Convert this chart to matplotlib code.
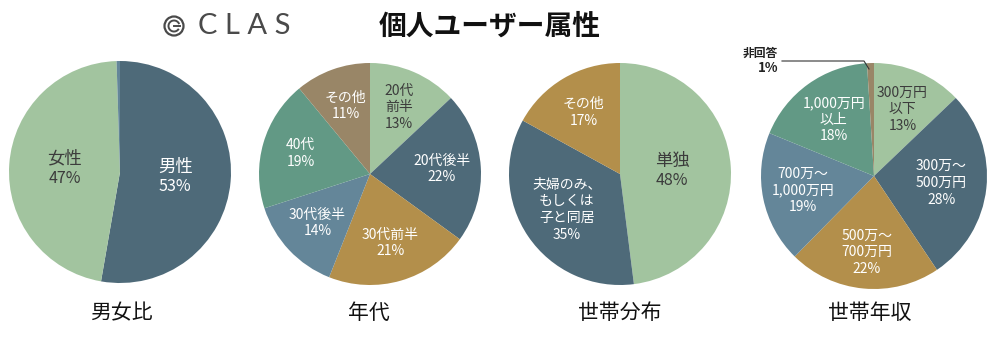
import matplotlib.pyplot as plt
import numpy as np
from matplotlib.patches import Circle, Arc

plt.rcParams['font.family'] = ['Noto Sans CJK JP', 'DejaVu Sans']

# colours used by all four pies
green = '#a2c49f'
slate = '#4e6a79'
gold = '#b38f4b'
steel = '#648699'
teal = '#629985'
taupe = '#998667'

# 男女比
gender_labels = ['男性', '女性', '']
gender_pcts = [53, 47, None]
gender_values = [53, 47, 0.5]
gender_colors = [slate, green, steel]

# 年代
age_labels = ['20代\n前半', '20代後半', '30代前半', '30代後半', '40代', 'その他']
age_values = [13, 22, 21, 14, 19, 11]
age_colors = [green, slate, gold, steel, teal, taupe]

# 世帯分布
house_labels = ['単独', '夫婦のみ、\nもしくは\n子と同居', 'その他']
house_values = [48, 35, 17]
house_colors = [green, slate, gold]

# 世帯年収
income_labels = ['300万円\n以下', '300万〜\n500万円', '500万〜\n700万円',
                 '700万〜\n1,000万円', '1,000万円\n以上', '非回答']
income_values = [13, 28, 22, 19, 18, 1]
income_colors = [green, slate, gold, steel, teal, taupe]

W, H = 1000, 339
fig = plt.figure(figsize=(10, 3.39), dpi=100)
ax = fig.add_axes([0, 0, 1, 1])


def draw_pie(values, labels, pcts, colors, cx, cy, r, dist, size, pct_size, skip=()):
    wedges, _ = ax.pie(values, colors=colors, startangle=90, counterclock=False,
                       center=(cx, H - cy), radius=r, wedgeprops=dict(linewidth=0))
    n = len(values)
    dist = [dist] * n if np.isscalar(dist) else dist
    size = [size] * n if np.isscalar(size) else size
    pct_size = [pct_size] * n if np.isscalar(pct_size) else pct_size
    for i, w in enumerate(wedges):
        if pcts[i] is None or i in skip:
            continue
        ang = np.deg2rad((w.theta1 + w.theta2) / 2)
        x = cx + dist[i] * r * np.cos(ang)
        y = H - cy + dist[i] * r * np.sin(ang)
        col = '#3c3c3c' if colors[i] == green else 'white'
        nl = labels[i].count('\n') + 1
        lh = size[i] * 1.75
        ph = pct_size[i] * 1.75
        top = y + (nl * lh + ph) / 2
        ax.text(x, top - nl * lh / 2, labels[i], ha='center', va='center',
                fontsize=size[i], color=col, linespacing=1.25)
        ax.text(x, top - nl * lh - ph / 2 + 1, f'{pcts[i]}%',
                ha='center', va='center', fontsize=pct_size[i], color=col)
    return wedges


draw_pie(gender_values, gender_labels, gender_pcts, gender_colors,
         120, 172, 111, 0.5, 12.5, 11.5)
draw_pie(age_values, age_labels, age_values, age_colors,
         370, 174, 111, 0.65, 10, 10)
draw_pie(house_values, house_labels, house_values, house_colors,
         620, 174, 111, [0.47, 0.58, 0.64], [12.5, 10, 10], [11.5, 10, 10])
draw_pie(income_values, income_labels, income_values, income_colors,
         874, 176, 113, [0.64, 0.6, 0.68, 0.64, 0.61, 0], 10, 10, skip=(5,))

# 非回答 callout
ax.plot([782, 864, 869], [H - 61, H - 61, H - 69], color='#333333', lw=0.8)
ax.text(778, H - 53, '非回答', ha='right', va='center', fontsize=8.5,
        fontweight='bold', color='#222222')
ax.text(778, H - 68, f'{income_values[5]}%', ha='right', va='center', fontsize=9.5,
        fontweight='bold', color='#222222')

# headline and logo
ax.text(490, H - 27, '個人ユーザー属性', ha='center', va='center', fontsize=20,
        fontweight='bold', color='#111111')
ax.add_patch(Circle((174, H - 26), 9.5, fill=False, ec='#4a4a4a', lw=1.6))
ax.add_patch(Arc((174, H - 26), 11, 11, theta1=20, theta2=330, ec='#4a4a4a', lw=1.4))
ax.plot([174, 179.5], [H - 26, H - 26], color='#4a4a4a', lw=1.4)
ax.text(198, H - 26, 'C L A S', ha='left', va='center', fontsize=21,
        family='Lato', color='#4a4a4a')

# pie captions
for x, t in [(121, '男女比'), (369, '年代'), (620, '世帯分布'), (870, '世帯年収')]:
    ax.text(x, H - 313, t, ha='center', va='center', fontsize=15, color='#111111')

ax.set_xlim(0, W)
ax.set_ylim(0, H)
ax.set_aspect('equal')
ax.axis('off')

plt.savefig('out.png', dpi=100)
